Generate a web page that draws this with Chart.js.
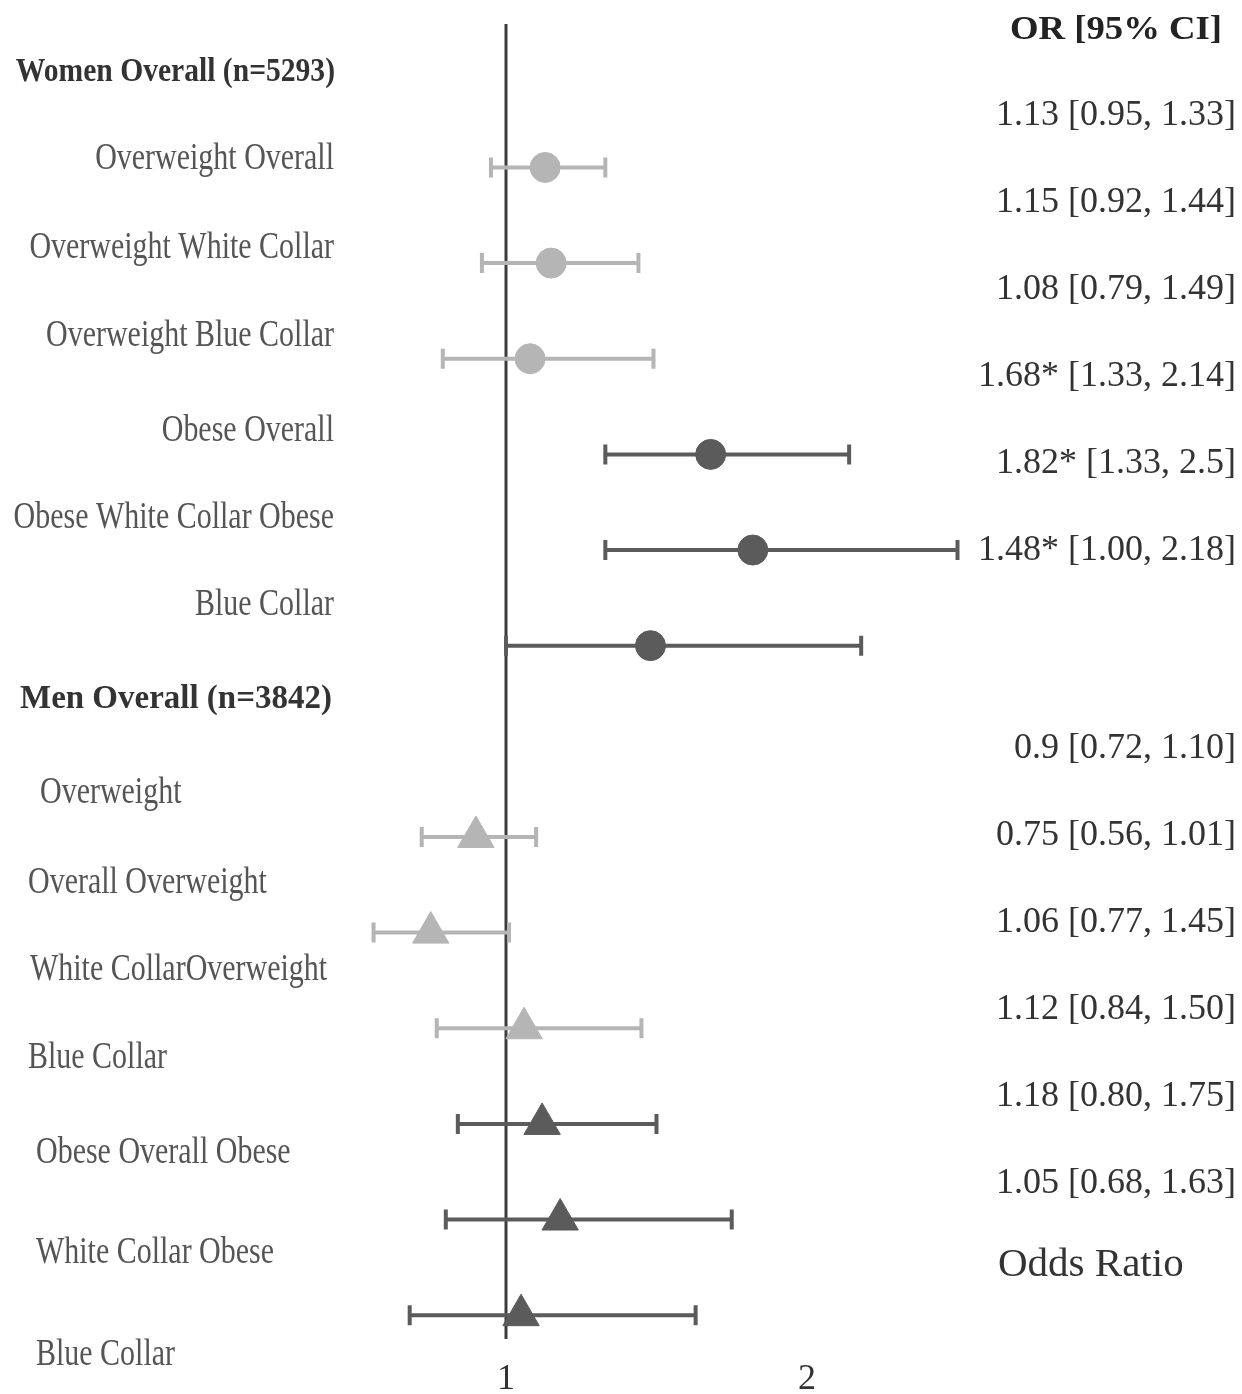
<!DOCTYPE html>
<html>
<head>
<meta charset="utf-8">
<script src="https://cdn.jsdelivr.net/npm/chart.js@4/dist/chart.umd.min.js"></script>
<style>
  html, body { margin: 0; padding: 0; background: #fff; }
  canvas { display: block; }
</style>
</head>
<body>
<canvas id="forest" width="1242" height="1394"></canvas>
<script>
// odds ratios, one per row (women rows 0-5, men rows 7-12)
const womenRows = [0, 1, 2, 3, 4, 5];
const menRows = [7, 8, 9, 10, 11, 12];
const womenOR = [1.13, 1.15, 1.08, 1.68, 1.82, 1.48];
const womenLow = [0.95, 0.92, 0.79, 1.33, 1.33, 1.00];
const womenHigh = [1.33, 1.44, 1.49, 2.14, 2.5, 2.18];
const menOR = [0.9, 0.75, 1.06, 1.12, 1.18, 1.05];
const menLow = [0.72, 0.56, 0.77, 0.84, 0.80, 0.68];
const menHigh = [1.10, 1.01, 1.45, 1.50, 1.75, 1.63];

const womenText = ['1.13 [0.95, 1.33]', '1.15 [0.92, 1.44]', '1.08 [0.79, 1.49]',
                   '1.68* [1.33, 2.14]', '1.82* [1.33, 2.5]', '1.48* [1.00, 2.18]'];
const menText = ['0.9 [0.72, 1.10]', '0.75 [0.56, 1.01]', '1.06 [0.77, 1.45]',
                 '1.12 [0.84, 1.50]', '1.18 [0.80, 1.75]', '1.05 [0.68, 1.63]'];

const womenLabels = ['Overweight Overall', 'Overweight White Collar', 'Overweight Blue Collar',
                     'Obese Overall', 'Obese White Collar Obese', 'Blue Collar'];
const menLabels = ['Overweight', 'Overall Overweight', 'White CollarOverweight', 'Blue Collar',
                   'Obese Overall Obese', 'White Collar Obese', 'Blue Collar'];
const xTicks = [1, 2];

// layout (where the text sits, in row units of the y scale)
const womenLabelRows = [-0.09, 0.85, 1.77, 2.76, 3.67, 4.58];
const menLabelRows = [6.54, 7.48, 8.39, 9.31, 10.31, 11.35, 12.42];
const menLabelX = [40, 28, 30, 28, 36, 36, 36];

const dark = '#5b5b5b';
const light = '#b5b5b5';
const serif = '"Liberation Serif", "Times New Roman", serif';

function pts(xs, rows, from, to) {
    const out = [];
    for (let i = from; i < to; i++) out.push({ x: xs[i], y: rows[i] });
    return out;
}

function drawText(ctx, str, x, y, font, color, align, sx) {
    ctx.save();
    ctx.font = font;
    ctx.fillStyle = color;
    ctx.textBaseline = 'middle';
    ctx.textAlign = 'left';
    const w = ctx.measureText(str).width * sx;
    let x0 = x;
    if (align === 'right') x0 = x - w;
    else if (align === 'center') x0 = x - w / 2;
    ctx.translate(x0, y);
    ctx.scale(sx, 1);
    ctx.fillText(str, 0, 0);
    ctx.restore();
}

const forestPlugin = {
    id: 'forest',
    beforeDatasetsDraw(chart) {
        const ctx = chart.ctx;
        const xs = chart.scales.x, ys = chart.scales.y;
        // reference line at OR = 1
        ctx.save();
        ctx.strokeStyle = '#3c3c3c';
        ctx.lineWidth = 3;
        ctx.beginPath();
        ctx.moveTo(xs.getPixelForValue(1), chart.chartArea.top);
        ctx.lineTo(xs.getPixelForValue(1), ys.getPixelForValue(12.25));
        ctx.stroke();
        ctx.restore();

        // error bars
        const groups = [
            { rows: womenRows, lo: womenLow, hi: womenHigh },
            { rows: menRows, lo: menLow, hi: menHigh }
        ];
        groups.forEach(g => {
            g.rows.forEach((r, i) => {
                const y = ys.getPixelForValue(r);
                const x1 = xs.getPixelForValue(g.lo[i]);
                const x2 = xs.getPixelForValue(g.hi[i]);
                ctx.save();
                ctx.strokeStyle = i < 3 ? light : dark;
                ctx.lineWidth = 4;
                ctx.beginPath();
                ctx.moveTo(x1, y); ctx.lineTo(x2, y);
                ctx.moveTo(x1, y - 10); ctx.lineTo(x1, y + 10);
                ctx.moveTo(x2, y - 10); ctx.lineTo(x2, y + 10);
                ctx.stroke();
                ctx.restore();
            });
        });
    },
    afterDraw(chart) {
        const ctx = chart.ctx;
        const xs = chart.scales.x, ys = chart.scales.y;
        const labelFont = '37px ' + serif;
        const boldFont = 'bold 34px ' + serif;
        const valFont = '36px ' + serif;

        drawText(ctx, 'Women Overall (n=5293)', 335, ys.getPixelForValue(-1), boldFont, '#333', 'right', 0.87);
        womenLabels.forEach((t, i) => {
            drawText(ctx, t, 334, ys.getPixelForValue(womenLabelRows[i]), labelFont, '#555', 'right', 0.81);
        });
        drawText(ctx, 'Men Overall (n=3842)', 20, ys.getPixelForValue(5.56), boldFont, '#333', 'left', 0.97);
        menLabels.forEach((t, i) => {
            drawText(ctx, t, menLabelX[i], ys.getPixelForValue(menLabelRows[i]), labelFont, '#555', 'left', 0.81);
        });

        // right column
        drawText(ctx, 'OR [95% CI]', 1116, 30, 'bold 34px ' + serif, '#222', 'center', 1.08);
        womenText.forEach((t, i) => {
            drawText(ctx, t, 1236, 116 + i * 87, valFont, '#333', 'right', 1.0);
        });
        menText.forEach((t, i) => {
            drawText(ctx, t, 1236, 749 + i * 87, valFont, '#333', 'right', 1.0);
        });
        drawText(ctx, 'Odds Ratio', 998, 1265, '41px ' + serif, '#333', 'left', 1);

        // x tick labels
        xTicks.forEach(v => {
            drawText(ctx, String(v), xs.getPixelForValue(v), 1380, '36px ' + serif, '#333', 'center', 1);
        });
    }
};

new Chart(document.getElementById('forest'), {
    type: 'scatter',
    data: {
        datasets: [
            { label: 'Women overweight', data: pts(womenOR, womenRows, 0, 3),
              pointStyle: 'circle', pointRadius: 15, backgroundColor: light, borderColor: light },
            { label: 'Women obese', data: pts(womenOR, womenRows, 3, 6),
              pointStyle: 'circle', pointRadius: 15, backgroundColor: dark, borderColor: dark },
            { label: 'Men overweight', data: pts(menOR, menRows, 0, 3),
              pointStyle: 'triangle', pointRadius: 21, backgroundColor: light, borderColor: light },
            { label: 'Men obese', data: pts(menOR, menRows, 3, 6),
              pointStyle: 'triangle', pointRadius: 21, backgroundColor: dark, borderColor: dark }
        ]
    },
    options: {
        responsive: false,
        animation: false,
        devicePixelRatio: 1,
        clip: false,
        layout: { padding: { left: 250, right: 242, top: 24, bottom: 31 } },
        scales: {
            x: { type: 'linear', display: false, min: 0.1495, max: 2.6412 },
            y: { type: 'linear', display: false, min: -1.5, max: 12.5, reverse: true }
        },
        plugins: {
            legend: { display: false },
            tooltip: { enabled: false }
        }
    },
    plugins: [forestPlugin]
});
</script>
</body>
</html>
